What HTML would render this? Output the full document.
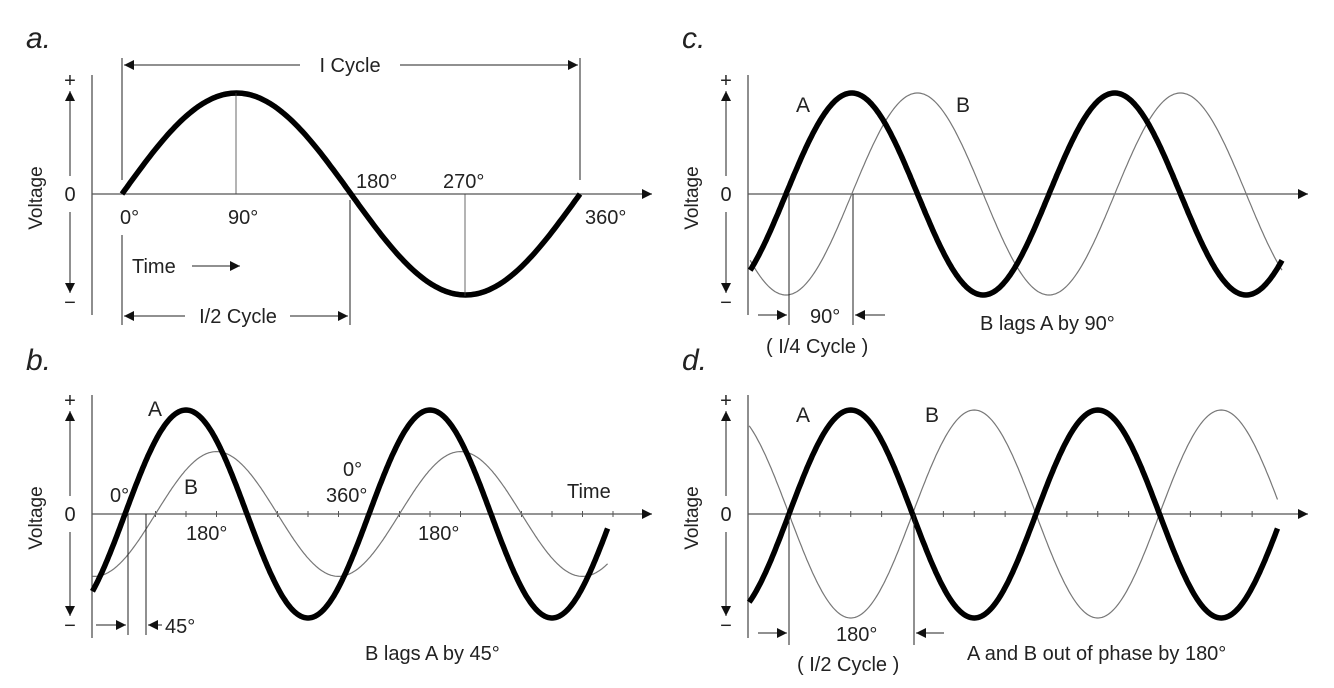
<!DOCTYPE html>
<html><head><meta charset="utf-8"><style>
html,body{margin:0;padding:0;background:#fff;}
svg{display:block;font-family:"Liberation Sans",sans-serif;}
</style></head><body>
<svg id="fig" width="1334" height="688" viewBox="0 0 1334 688" xmlns="http://www.w3.org/2000/svg">
<defs>
<marker id="ah" viewBox="0 0 10 10" refX="10" refY="5" markerWidth="14" markerHeight="10" orient="auto-start-reverse" markerUnits="userSpaceOnUse"><path d="M0,0 L10,5 L0,10 z" fill="#111"/></marker>
</defs>
</svg>
<script>
// ---- data ----
const panelNames = ["a", "b", "c", "d"];
const degStart = [0, -48, -49, -58];
const degEnd = [360, 713, 680, 713];
const ampA = [1, 1, 1, 1];
const ampB = [null, 0.6, 1, 1];
const lagB = [null, 45, 90, 180];
const tickStepDeg = [null, 45, null, 45];

// ---- layout (not data) ----
const L = [
  {x0:122, per:458, zy:194, amp:101, ax:92, top:75, bot:315, axEnd:652, ly:48},
  {x0:125, per:244, zy:514, amp:104, ax:92, top:395, bot:638, axEnd:652, ly:370},
  {x0:786, per:263, zy:194, amp:101, ax:748, top:75, bot:315, axEnd:1308, ly:48},
  {x0:789, per:247, zy:514, amp:104, ax:748, top:395, bot:638, axEnd:1308, ly:370}
];
const NS = "http://www.w3.org/2000/svg";
const svg = document.getElementById('fig');
function mk(tag, attrs, parent, text){
  const e = document.createElementNS(NS, tag);
  for (const k in attrs) e.setAttribute(k, attrs[k]);
  if (text !== undefined) e.textContent = text;
  (parent || svg).appendChild(e);
  return e;
}
function line(x1,y1,x2,y2,w,p,extra){
  return mk('line',Object.assign({x1,y1,x2,y2,stroke:'#222','stroke-width':w||1},extra||{}),p);
}
function txt(x,y,s,size,p,extra){
  return mk('text',Object.assign({x,y,'font-size':size||18,fill:'#222'},extra||{}),p,s);
}

panelNames.forEach((nm,i)=>{
  const l = L[i];
  const g = mk('g',{});
  
  
  const xs = d => l.x0 + d / 360 * l.per;
  const ys = v => l.zy - v * l.amp;
  const t = txt(l.ax - 66, l.ly, nm + '.', 30, g, {'font-style':'italic'});
  
  
  line(l.ax, l.top, l.ax, l.bot, 1.2, g, {stroke:'#444'});
  const xa = line(l.ax, l.zy, l.axEnd, l.zy, 1.2, g, {stroke:'#555','marker-end':'url(#ah)'});
  
  
  const vx = l.ax - 22;
  txt(vx, l.top + 12, '+', 20, g, {'text-anchor':'middle'});
  txt(vx, l.bot - 6, '\u2212', 20, g, {'text-anchor':'middle'});
  txt(vx, l.zy + 7, '0', 20, g, {'text-anchor':'middle'});
  line(vx, l.zy - 18, vx, l.top + 16, 1, g, {'marker-end':'url(#ah)'});
  line(vx, l.zy + 18, vx, l.bot - 22, 1, g, {'marker-end':'url(#ah)'});
  const vt = txt(0, 0, 'Voltage', 19, g, {'text-anchor':'middle', transform:`translate(${l.ax-50},${l.zy+4}) rotate(-90)`});
  
  
  if (tickStepDeg[i]) {
    for (let d = 0; xs(d) < l.axEnd - 30; d += tickStepDeg[i]) {
      line(xs(d), l.zy - 3, xs(d), l.zy + 3, 1, g, {stroke:'#555'});
    }
  }
  function wave(amp, lag, w, col, name){
    let d = '';
    for (let deg = degStart[i]; deg <= degEnd[i]; deg += 2) {
      const v = amp * Math.sin((deg - lag) * Math.PI / 180);
      d += (d ? 'L' : 'M') + xs(deg).toFixed(1) + ',' + ys(v).toFixed(1);
    }
    const p = mk('path',{d, fill:'none', stroke:col, 'stroke-width':w, 'stroke-linejoin':'round'}, g);
    
    
  }
  if (ampB[i] !== null) wave(ampB[i], lagB[i], 1.2, '#777', 'series-b-' + nm);
  wave(ampA[i], 0, 5.5, '#000', 'series-a-' + nm);
});

// ---- annotations ----
const A = mk('g',{});


line(122,58,122,180,1,A); line(580,58,580,180,1,A);
line(300,65,124,65,1,A,{'marker-end':'url(#ah)'});
line(400,65,578,65,1,A,{'marker-end':'url(#ah)'});
txt(350,72,'I Cycle',20,A,{'text-anchor':'middle'});
line(236,93,236,194,0.8,A,{stroke:'#444'});
line(465,194,465,296,0.8,A,{stroke:'#444'});
line(350,200,350,325,1,A); line(122,235,122,325,1,A);
line(185,316,124,316,1,A,{'marker-end':'url(#ah)'});
line(290,316,348,316,1,A,{'marker-end':'url(#ah)'});
txt(238,323,'I/2 Cycle',20,A,{'text-anchor':'middle'});
txt(120,224,'0°',20,A); txt(228,224,'90°',20,A);
txt(356,188,'180°',20,A); txt(443,188,'270°',20,A); txt(585,224,'360°',20,A);
txt(132,273,'Time',20,A); line(192,266,240,266,1,A,{'marker-end':'url(#ah)'});
// panel b
txt(148,416,'A',21,A); txt(184,494,'B',21,A);
txt(110,502,'0°',20,A); txt(186,540,'180°',20,A); txt(418,540,'180°',20,A);
txt(343,476,'0°',20,A); txt(326,502,'360°',20,A); txt(567,498,'Time',20,A);
line(128,514,128,635,1,A); line(146,514,146,635,1,A);
line(96,625,126,625,1,A,{'marker-end':'url(#ah)'});
line(162,625,148,625,1,A,{'marker-end':'url(#ah)'});
txt(165,633,'45°',20,A);
txt(365,660,'B lags A by 45°',20,A);
// panel c
txt(796,112,'A',21,A); txt(956,112,'B',21,A);
line(789,194,789,325,1,A); line(853,194,853,325,1,A);
line(758,315,787,315,1,A,{'marker-end':'url(#ah)'});
line(885,315,855,315,1,A,{'marker-end':'url(#ah)'});
txt(810,323,'90°',20,A);
txt(766,353,'( I/4 Cycle )',20,A);
txt(980,330,'B lags A by 90°',20,A);
// panel d
txt(796,422,'A',21,A); txt(925,422,'B',21,A);
line(789,514,789,645,1,A); line(914,514,914,645,1,A);
line(758,633,787,633,1,A,{'marker-end':'url(#ah)'});
line(944,633,916,633,1,A,{'marker-end':'url(#ah)'});
txt(836,641,'180°',20,A);
txt(797,671,'( I/2 Cycle )',20,A);
txt(967,660,'A and B out of phase by 180°',20,A);
</script>
</body></html>
